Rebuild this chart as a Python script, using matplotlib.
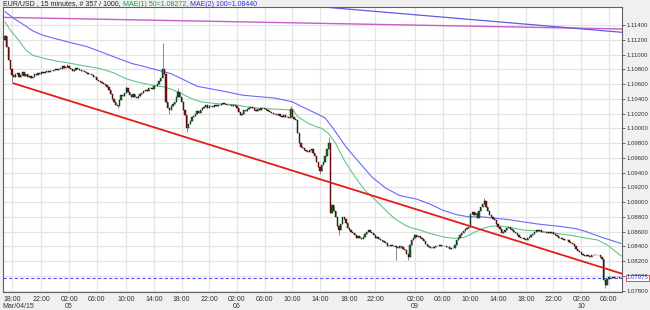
import numpy as np
import matplotlib
matplotlib.use("Agg")
import matplotlib.pyplot as plt
import matplotlib.transforms as mtransforms

plt.rcParams["font.family"] = ["Liberation Sans", "DejaVu Sans"]

# --- EUR/USD 15 min closes (one row = 4 hours) ---
closes = [
    1.1125, 1.1110, 1.1092, 1.1080, 1.1072, 1.1070, 1.1074, 1.1075, 1.1070, 1.1072, 1.1076, 1.1071, 1.1074, 1.1070, 1.1071, 1.1068,
    1.1070, 1.1073, 1.1072, 1.1075, 1.1073, 1.1076, 1.1075, 1.1076, 1.1077, 1.1076, 1.1078, 1.1077, 1.1079, 1.1080, 1.1079, 1.1081,
    1.1081, 1.1084, 1.1082, 1.1083, 1.1085, 1.1082, 1.1080, 1.1078, 1.1079, 1.1082, 1.1081, 1.1079, 1.1078, 1.1077, 1.1076, 1.1075,
    1.1074, 1.1073, 1.1072, 1.1070, 1.1069, 1.1066, 1.1064, 1.1063, 1.1061, 1.1060, 1.1059, 1.1056, 1.1052, 1.1046, 1.1040, 1.1035,
    1.1032, 1.1030, 1.1038, 1.1045, 1.1044, 1.1048, 1.1054, 1.1049, 1.1045, 1.1043, 1.1046, 1.1042, 1.1041, 1.1044, 1.1046, 1.1048,
    1.1050, 1.1052, 1.1050, 1.1054, 1.1055, 1.1053, 1.1057, 1.1058, 1.1060, 1.1064, 1.1068, 1.1080, 1.1074, 1.1035, 1.1028, 1.1025,
    1.1030, 1.1033, 1.1036, 1.1042, 1.1049, 1.1043, 1.1035, 1.1025, 1.1018, 1.1000, 1.1006, 1.1010, 1.1015, 1.1017, 1.1020, 1.1023,
    1.1021, 1.1025, 1.1027, 1.1029, 1.1031, 1.1028, 1.1030, 1.1030, 1.1029, 1.1031, 1.1030, 1.1032, 1.1031, 1.1033, 1.1034, 1.1033,
    1.1032, 1.1031, 1.1032, 1.1030, 1.1031, 1.1030, 1.1027, 1.1022, 1.1018, 1.1020, 1.1025, 1.1024, 1.1026, 1.1027, 1.1029, 1.1027,
    1.1025, 1.1024, 1.1026, 1.1025, 1.1028, 1.1027, 1.1026, 1.1025, 1.1023, 1.1022, 1.1021, 1.1020, 1.1019, 1.1018, 1.1019, 1.1017,
    1.1016, 1.1018, 1.1015, 1.1016, 1.1014, 1.1026, 1.1016, 1.1013, 1.1011, 1.0994, 1.0980, 1.0975, 1.0973, 1.0970, 1.0969, 1.0968,
    1.0970, 1.0972, 1.0966, 1.0962, 1.0955, 1.0948, 1.0942, 1.0950, 1.0955, 1.0962, 1.0972, 1.0980, 1.0885, 1.0896, 1.0888, 1.0880,
    1.0868, 1.0862, 1.0870, 1.0880, 1.0877, 1.0872, 1.0865, 1.0862, 1.0860, 1.0858, 1.0855, 1.0852, 1.0854, 1.0852, 1.0850, 1.0853,
    1.0857, 1.0860, 1.0862, 1.0860, 1.0858, 1.0855, 1.0852, 1.0853, 1.0850, 1.0848, 1.0847, 1.0846, 1.0844, 1.0840, 1.0841, 1.0842,
    1.0840, 1.0841, 1.0839, 1.0838, 1.0840, 1.0839, 1.0837, 1.0835, 1.0830, 1.0826, 1.0842, 1.0848, 1.0852, 1.0855, 1.0853, 1.0854,
    1.0851, 1.0850, 1.0847, 1.0843, 1.0840, 1.0839, 1.0838, 1.0838, 1.0839, 1.0841, 1.0840, 1.0842, 1.0840, 1.0841, 1.0840, 1.0839,
    1.0839, 1.0837, 1.0838, 1.0838, 1.0842, 1.0848, 1.0852, 1.0856, 1.0858, 1.0861, 1.0863, 1.0865, 1.0866, 1.0884, 1.0887, 1.0883,
    1.0885, 1.0879, 1.0888, 1.0894, 1.0898, 1.0901, 1.0893, 1.0888, 1.0882, 1.0880, 1.0877, 1.0876, 1.0870, 1.0866, 1.0863, 1.0858,
    1.0860, 1.0862, 1.0865, 1.0866, 1.0864, 1.0862, 1.0860, 1.0858, 1.0855, 1.0853, 1.0852, 1.0851, 1.0850, 1.0848, 1.0851, 1.0853,
    1.0855, 1.0857, 1.0860, 1.0862, 1.0861, 1.0862, 1.0860, 1.0859, 1.0860, 1.0858, 1.0860, 1.0858, 1.0859, 1.0857, 1.0856, 1.0854,
    1.0852, 1.0851, 1.0850, 1.0849, 1.0848, 1.0848, 1.0846, 1.0845, 1.0843, 1.0840, 1.0837, 1.0834, 1.0832, 1.0830, 1.0828, 1.0827,
    1.0828, 1.0827, 1.0826, 1.0828, 1.0829, 1.0828, 1.0829, 1.0828, 1.0826, 1.0823, 1.0795, 1.0788, 1.0796, 1.0799, 1.0798, 1.0797,
    1.0799, 1.0798, 1.0799, 1.0797, 1.07975,
]
first_open = 1.1120

# long wicks visible on the chart (bar index -> price)
spike_highs = {0: 1.1127, 36: 1.1087, 70: 1.1057, 91: 1.1116, 100: 1.1055,
               165: 1.1030, 187: 1.0988, 277: 1.0905}
spike_lows = {4: 1.1063, 65: 1.1027, 95: 1.1019, 105: 1.0995, 182: 1.0938,
              193: 1.0855, 226: 1.0821, 233: 1.0822, 347: 1.0784}

# moving averages read at sample bars
ma50_idx = [0, 3, 7, 12, 16, 22, 30, 38, 47, 55, 63, 69, 76, 84, 92, 96, 102, 107, 113,
            120, 125, 133, 140, 148, 156, 164, 167, 169, 175, 180, 183, 187, 191, 196, 202,
            208, 214, 220, 225, 231, 235, 240, 245, 253, 259, 265, 268, 272, 276, 280, 285,
            291, 300, 307, 317, 327, 336, 342, 348, 356]
ma50 = [1.1144, 1.1133, 1.1122, 1.1106, 1.1099, 1.1095, 1.1091, 1.1088, 1.1084, 1.1081,
        1.1075, 1.1068, 1.1063, 1.1059, 1.1056, 1.1053, 1.1047, 1.1041, 1.1036, 1.1034,
        1.1033, 1.1032, 1.1029, 1.1027, 1.1026, 1.1025, 1.1023, 1.1016, 1.1007, 1.1002,
        1.1000, 1.0993, 1.0980, 1.0957, 1.0935, 1.0916, 1.0903, 1.0889, 1.0878, 1.0869,
        1.0865, 1.0862, 1.0858, 1.0853, 1.0851, 1.0852, 1.0855, 1.0860, 1.0864, 1.0867,
        1.0868, 1.0866, 1.0862, 1.0861, 1.0858, 1.0855, 1.0851, 1.0849, 1.0842, 1.08272]

ma100_idx = [0, 5, 11, 16, 22, 30, 38, 47, 55, 65, 73, 80, 88, 96, 104, 111, 120, 127,
             137, 146, 156, 166, 171, 180, 185, 189, 197, 205, 212, 220, 228, 238, 245,
             253, 261, 268, 276, 284, 292, 300, 309, 321, 330, 336, 344, 356]
ma100 = [1.1158, 1.1149, 1.1140, 1.1132, 1.1126, 1.1121, 1.1116, 1.1111, 1.1104, 1.1095,
         1.1088, 1.1084, 1.1079, 1.1074, 1.1065, 1.1057, 1.1053, 1.1050, 1.1045, 1.1043,
         1.1041, 1.1036, 1.1030, 1.1020, 1.1014, 1.1002, 1.0975, 1.0953, 1.0934, 1.0919,
         1.0909, 1.0904, 1.0898, 1.0889, 1.0883, 1.0880, 1.0880, 1.0878, 1.0876, 1.0873,
         1.0870, 1.0867, 1.0864, 1.0860, 1.0853, 1.08440]

# drawn lines: (bar, price) pairs
red_trend = [(4.8, 1.1061), (356.6, 1.0803)]
magenta_line = [(-2.9, 1.11504), (356.6, 1.11346)]
blue_line = [(177.5, 1.11657), (356.6, 1.11301)]
last_price = 1.07975

tick_idx = [4, 21, 37, 53, 70, 86, 102, 118, 134, 150, 166, 182, 199, 214,
            237, 253, 269, 285, 301, 317, 333, 349]
tick_labels = ["18:00", "22:00", "02:00", "06:00", "10:00", "14:00",
               "18:00", "22:00", "02:00", "06:00", "10:00", "14:00", "18:00", "22:00",
               "02:00", "06:00", "10:00", "14:00", "18:00", "22:00", "02:00", "06:00"]
day_idx = [4, 37, 134, 237, 333]
day_labels = ["Mar/04/15", "05", "06", "09", "10"]
y_ticks = [1.078 + 0.002 * k for k in range(19)]

# --- figure ---
W, H = 650, 310
fig = plt.figure(figsize=(W / 100, H / 100), dpi=100, facecolor="#f0f0f0")
ax = fig.add_axes([3 / W, 18 / H, 619 / W, 285 / H], facecolor="white")

c = np.array(closes)
o = np.concatenate([[first_open], c[:-1]])
x = np.arange(len(c))
hi = np.maximum(o, c)
lo = np.minimum(o, c)
for k, v in spike_highs.items():
    hi[k] = v
for k, v in spike_lows.items():
    lo[k] = v

ax.vlines(x, lo, hi, color="#8a8a8a", lw=0.7, zorder=3)
up = c >= o
body = np.maximum(np.abs(c - o), 0.00003)
ax.bar(x[up], body[up], bottom=o[up], width=0.75, color="#0a7a1a",
       edgecolor="#111111", lw=0.3, zorder=4)
ax.bar(x[~up], body[~up], bottom=c[~up], width=0.75, color="#9a0a0a",
       edgecolor="#111111", lw=0.3, zorder=4)

ax.plot(ma50_idx, ma50, color="#66c58a", lw=0.8, zorder=2)
ax.plot(ma100_idx, ma100, color="#6868ff", lw=0.8, zorder=2)

ax.plot(*zip(*red_trend), color="#e41b1b", lw=1.3, zorder=5)
ax.axline(*magenta_line, color="#c85ccc", lw=1.0, zorder=2)
ax.axline(*blue_line, color="#5c5ce6", lw=0.9, zorder=2)
ax.axhline(last_price, color="#5555ff", lw=0.8, ls=(0, (3, 2)), zorder=2)

ax.set_xlim(-1.2, 356.6)
ax.set_ylim(1.07782, 1.11644)

ax.set_yticks(y_ticks)
ax.set_yticklabels([f"{v:.5f}" for v in y_ticks])
ax.yaxis.tick_right()
ax.set_xticks(tick_idx)
ax.set_xticklabels(tick_labels)
ax.tick_params(axis="x", labelsize=5, colors="#333333", length=0, pad=3)
ax.tick_params(axis="y", labelsize=4.3, colors="#333333", length=2, width=0.5, pad=1.5)
ax.grid(True, color="#e4e4e4", lw=0.9, zorder=0)
ax.set_axisbelow(True)
for s in ax.spines.values():
    s.set_color("#606060")
    s.set_linewidth(0.8)

# second row of the time axis (day marks)
xtrans = mtransforms.blended_transform_factory(ax.transData, fig.transFigure)
for i, lab in zip(day_idx, day_labels):
    if i == day_idx[0]:
        fig.text(2 / W, 4 / H, lab, fontsize=5, color="#333333", ha="left", va="center")
    else:
        ax.text(i, 4 / H, lab, transform=xtrans, fontsize=5, color="#333333",
                ha="center", va="center", clip_on=False)

# current price box on the right axis
trans = mtransforms.blended_transform_factory(ax.transAxes, ax.transData)
ax.text(1.007, last_price, f"{last_price:.5f}", transform=trans, fontsize=4.3,
        color="#3030e0", va="center", ha="left",
        bbox=dict(boxstyle="square,pad=0.12", fc="white", ec="#e03030", lw=0.6))

# header, coloured pieces
pieces = [("EUR/USD , 15 minutes, # 357 / 1000, ", "#222222"),
          ("MAE(1) 50=1.08272, ", "#1a9a3a"),
          ("MAE(2) 100=1.08440", "#3333dd")]
fig.canvas.draw()
renderer = fig.canvas.get_renderer()
px = 3
for txt, col in pieces:
    t = fig.text(px / W, 1 - 4 / H, txt, fontsize=5, color=col, va="center", ha="left")
    px += t.get_window_extent(renderer).width

fig.savefig("out.png", dpi=100, facecolor=fig.get_facecolor())
